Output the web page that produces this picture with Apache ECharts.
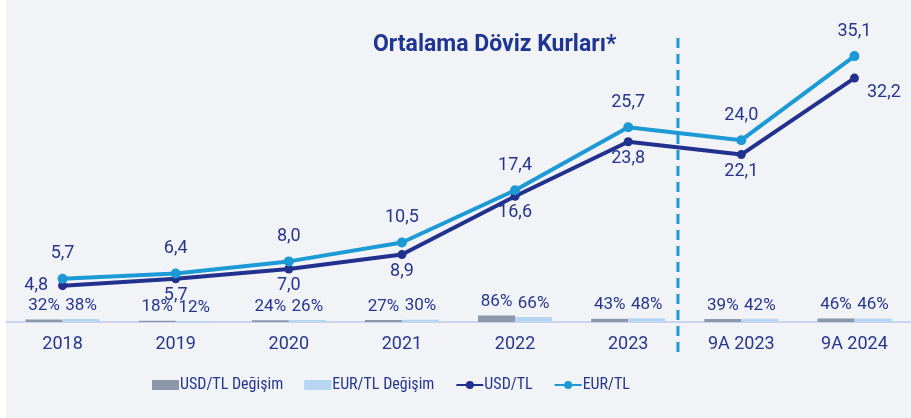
<!DOCTYPE html>
<html>
<head>
<meta charset="utf-8">
<script src="https://cdn.jsdelivr.net/npm/echarts@6/dist/echarts.min.js"></script>
<style>
  html, body { margin: 0; padding: 0; background: #fff; }
  #chart { position: absolute; left: 6px; top: 0; width: 905px; height: 418px; background: #f2f3f6; }
</style>
</head>
<body>
<div id="chart"></div>
<script>
var categories = ['2018', '2019', '2020', '2021', '2022', '2023', '9A 2023', '9A 2024'];
var usdRate = [4.8, 5.7, 7.0, 8.9, 16.6, 23.8, 22.1, 32.2];
var eurRate = [5.7, 6.4, 8.0, 10.5, 17.4, 25.7, 24.0, 35.1];
var usdChange = [0.32, 0.18, 0.24, 0.27, 0.86, 0.43, 0.39, 0.46];
var eurChange = [0.38, 0.12, 0.26, 0.30, 0.66, 0.48, 0.42, 0.46];

var textColor = '#26368f';
var font = 'Roboto';

function fmtRate(p) { return p.value.toFixed(1).replace('.', ','); }
function fmtPct(p) { return Math.round(p.value * 100) + '%'; }

var chart = echarts.init(document.getElementById('chart'));

// USD labels sit below the point, except first (left) and last (right)
var usdData = usdRate.map(function (v, i) {
    if (i === 0) return { value: v, label: { position: 'left', distance: 10 } };
    if (i === usdRate.length - 1) return { value: v, label: { position: 'right', distance: 8, offset: [0, 14] } };
    return v;
});

var option = {
    backgroundColor: '#f2f3f6',
    textStyle: { fontFamily: font },
    title: {
        text: 'Ortalama Döviz Kurları*',
        left: 362,
        top: 29,
        textStyle: { color: '#1f3592', fontSize: 23, fontWeight: 'bold', fontFamily: font }
    },
    legend: {
        left: 141,
        top: 372,
        itemWidth: 27,
        itemHeight: 10,
        itemGap: 21,
        textStyle: { color: textColor, fontSize: 16, fontFamily: '"Liberation Sans Narrow", "Roboto Condensed", Roboto', padding: [0, 0, 0, -4] },
        data: [
            { name: 'USD/TL Değişim', icon: 'rect' },
            { name: 'EUR/TL Değişim', icon: 'rect' },
            'USD/TL',
            'EUR/TL'
        ]
    },
    grid: { left: 0, right: 0, top: 19, bottom: 96 },
    xAxis: {
        type: 'category',
        data: categories,
        axisLine: { lineStyle: { color: '#ccd3ee', width: 2 } },
        axisTick: { show: false },
        axisLabel: { color: textColor, fontSize: 18, margin: 13, fontFamily: font }
    },
    yAxis: {
        type: 'value',
        min: 0,
        max: 40,
        show: false,
        splitLine: { show: false }
    },
    series: [
        {
            name: 'USD/TL Değişim',
            type: 'bar',
            data: usdChange,
            barWidth: 37,
            barGap: '0%',
            itemStyle: { color: '#8a98aa' },
            label: { show: true, position: 'top', distance: 5, color: textColor, fontSize: 17, formatter: fmtPct }
        },
        {
            name: 'EUR/TL Değişim',
            type: 'bar',
            data: eurChange,
            barWidth: 37,
            barGap: '0%',
            itemStyle: { color: '#b6d5f0' },
            label: { show: true, position: 'top', distance: 5, color: textColor, fontSize: 17, formatter: fmtPct }
        },
        {
            name: 'USD/TL',
            type: 'line',
            data: usdData,
            z: 5,
            symbol: 'circle',
            symbolSize: 9,
            lineStyle: { color: '#22308e', width: 4 },
            itemStyle: { color: '#22308e' },
            label: { show: true, position: 'bottom', distance: 3, color: textColor, fontSize: 18, formatter: fmtRate }
        },
        {
            name: 'EUR/TL',
            type: 'line',
            data: eurRate,
            z: 6,
            symbol: 'circle',
            symbolSize: 10,
            lineStyle: { color: '#1b9ad6', width: 4 },
            itemStyle: { color: '#1b9ad6' },
            label: { show: true, position: 'top', distance: 11, color: textColor, fontSize: 18, formatter: fmtRate }
        }
    ]
};
chart.setOption(option);

// dashed separator between annual and 9-month figures
var a = chart.convertToPixel({ xAxisIndex: 0 }, 5);
var b = chart.convertToPixel({ xAxisIndex: 0 }, 6);
var sepX = a + (b - a) * 0.44;
chart.setOption({
    graphic: [{
        type: 'line',
        z: 10,
        shape: { x1: sepX, y1: 38, x2: sepX, y2: 356 },
        style: { stroke: '#1b9ad6', lineWidth: 3, lineDash: [10, 6] }
    }]
});
</script>
</body>
</html>
